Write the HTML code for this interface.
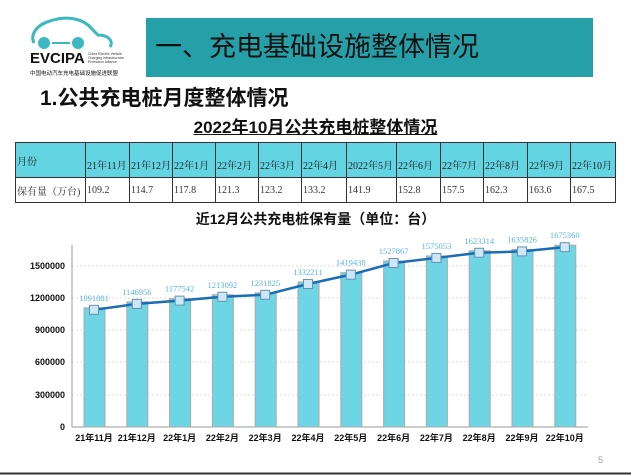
<!DOCTYPE html>
<html><head><meta charset="utf-8"><style>
body{margin:0;width:631px;height:475px;background:#fff;overflow:hidden;position:relative;font-family:"Liberation Sans","Noto Sans CJK SC",sans-serif}
.abs{position:absolute}
table{border-collapse:collapse;position:absolute;left:15px;top:142px;width:600px;table-layout:fixed;font-family:"Liberation Serif","Noto Serif CJK SC",serif;font-size:10px}
td{border:1px solid #333;padding:0 0 0 1px;white-space:nowrap;overflow:hidden}
tr.h td{background:#62d4e2;height:29px;vertical-align:bottom;padding-bottom:5px;color:#222}
tr.d td{height:24px;color:#333}
</style></head><body>
<svg class="abs" style="left:28px;top:15px" width="110" height="62">
<path d="M6 28 C2 20 8 10 22 6 C40 0 56 4 64 14 L70 20 C80 20 86 26 82 32" fill="none" stroke="#3bb8c0" stroke-width="3"/>
<circle cx="16" cy="28" r="6" fill="#3bb8c0"/><circle cx="50" cy="28" r="6" fill="#3bb8c0"/>
<line x1="24" y1="28" x2="42" y2="28" stroke="#3bb8c0" stroke-width="2"/>
<text x="2" y="48" font-size="15" font-weight="bold" fill="#111" font-family="Liberation Sans">EVCIPA</text>
<text x="60" y="40" font-size="3.5" fill="#333">China Electric Vehicle</text>
<text x="60" y="44" font-size="3.5" fill="#333">Charging Infrastructure</text>
<text x="60" y="48" font-size="3.5" fill="#333">Promotion Alliance</text>
<text x="2" y="60" font-size="5.5" fill="#111">中国电动汽车充电基础设施促进联盟</text>
</svg>
<div class="abs" style="left:146px;top:18px;width:447px;height:59px;background:#26a0a8"></div>
<div class="abs" style="left:155px;top:29px;font-size:27px;color:#111;line-height:36px">一、充电基础设施整体情况</div>
<div class="abs" style="left:40px;top:86px;font-size:21px;font-weight:bold;color:#111;line-height:26px">1.公共充电桩月度整体情况</div>
<div class="abs" style="left:0;width:631px;top:118px;text-align:center;font-size:17px;font-weight:bold;line-height:20px;text-decoration:underline;color:#111">2022年10月公共充电桩整体情况</div>
<table>
<colgroup><col style="width:70px"><col style="width:44px"><col style="width:43px"><col style="width:43px"><col style="width:43px"><col style="width:43px"><col style="width:45px"><col style="width:50px"><col style="width:44px"><col style="width:43px"><col style="width:44px"><col style="width:43px"><col style="width:45px"></colgroup>
<tr class="h"><td style="vertical-align:middle;padding-bottom:0">月份</td><td>21年11月</td><td>21年12月</td><td>22年1月</td><td>22年2月</td><td>22年3月</td><td>22年4月</td><td>2022年5月</td><td>22年6月</td><td>22年7月</td><td>22年8月</td><td>22年9月</td><td>22年10月</td></tr>
<tr class="d"><td>保有量（万台)</td><td>109.2</td><td>114.7</td><td>117.8</td><td>121.3</td><td>123.2</td><td>133.2</td><td>141.9</td><td>152.8</td><td>157.5</td><td>162.3</td><td>163.6</td><td>167.5</td></tr>
</table>
<div class="abs" style="left:0;width:631px;top:209px;text-align:center;font-size:14px;font-weight:bold;line-height:20px;color:#111">近12月公共充电桩保有量（单位：台）</div>
<svg class="abs" style="left:0;top:0" width="631" height="475" font-family="Liberation Serif, Noto Serif CJK SC, serif">
<g stroke="#ddd" stroke-width="1" stroke-dasharray="2,2">
<line x1="72" x2="588" y1="266" y2="266"/><line x1="72" x2="588" y1="298" y2="298"/><line x1="72" x2="588" y1="330" y2="330"/><line x1="72" x2="588" y1="362" y2="362"/><line x1="72" x2="588" y1="395" y2="395"/></g>
<line x1="72" x2="72" y1="245" y2="427" stroke="#999"/><line x1="72" x2="588" y1="427" y2="427" stroke="#999"/>
<g font-size="9" font-weight="bold" text-anchor="end" fill="#111" font-family="Liberation Sans Narrow, Liberation Sans, sans-serif">
<text x="65" y="269">1500000</text><text x="65" y="301">1200000</text><text x="65" y="333">900000</text><text x="65" y="365">600000</text><text x="65" y="398">300000</text><text x="65" y="430">0</text></g>
<g id="bars"></g>
<g id="rest"></g>
<line x1="0" x2="631" y1="473.5" y2="473.5" stroke="#333" stroke-width="2"/>
<text x="598" y="463" font-size="9" fill="#999" font-family="Liberation Sans">5</text>
</svg>
<script>
var v=[1091881,1146956,1177542,1213092,1231825,1332211,1419438,1527867,1575053,1623314,1635826,1675360];
var L=["21年11月","21年12月","22年1月","22年2月","22年3月","22年4月","22年5月","22年6月","22年7月","22年8月","22年9月","22年10月"];
var b="",r="",pts=[];
for(var i=0;i<12;i++){var x=94+i*42.8,y=427-v[i]/300000*32.2;pts.push(x+","+y);
b+='<rect x="'+(x-10)+'" y="'+(y-2)+'" width="21" height="'+(429-y)+'" fill="#6dd5e4" stroke="#aaa" stroke-width="1"/>';
r+='<rect x="'+(x-4.5)+'" y="'+(y-4.5)+'" width="9" height="9" fill="#cde8f5" stroke="#6a8fb0" stroke-width="1"/>';
r+='<text x="'+x+'" y="'+(y-9)+'" font-size="8.5" fill="#5ab4dc" text-anchor="middle">'+v[i]+'</text>';
r+='<text x="'+x+'" y="441" font-size="9" font-weight="bold" fill="#111" text-anchor="middle" font-family="Liberation Sans, Noto Sans CJK SC, sans-serif">'+L[i]+'</text>';}
document.getElementById("bars").innerHTML=b;
document.getElementById("rest").innerHTML='<polyline points="'+pts.join(" ")+'" fill="none" stroke="#1a6db4" stroke-width="2.5"/>'+r;
</script>
</body></html>
